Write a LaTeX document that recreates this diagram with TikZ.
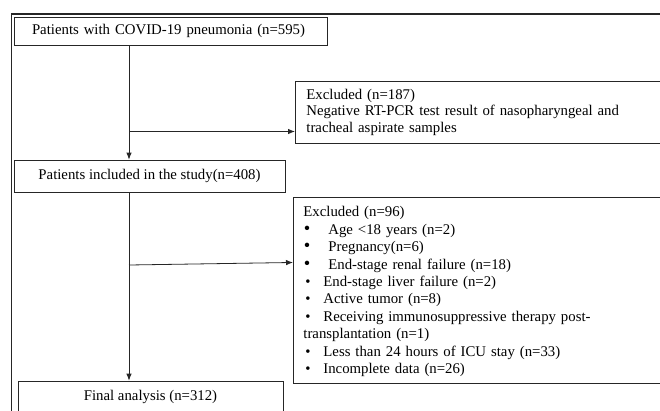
\documentclass[tikz,border=0pt]{standalone}
\usepackage{fontspec}
\setmainfont{Liberation Serif}
\usetikzlibrary{positioning,calc,arrows.meta}
\newcommand{\bulbig}{\makebox[25pt][l]{\hspace{0.5pt}\scalebox{1.25}{\textbullet}}}
\newcommand{\bulsmall}{\makebox[20pt][l]{\hspace{2pt}\textbullet}}
\begin{document}
\begin{tikzpicture}[x=1pt,y=-1pt,
        box/.style={draw=black!85,line width=0.8pt,inner sep=0pt,font=\fontsize{14.8}{17.4}\selectfont},
        exbox/.style={draw=black!85,line width=0.8pt,anchor=north west,align=left,text width=400pt,
            inner xsep=10pt,inner ysep=7pt,font=\fontsize{14.8}{17.4}\selectfont}]
        \clip (0,0) rectangle (660,410);
        \draw[line width=1.8pt,black!85] (11.5,420) -- (11.5,14.3) -- (670,14.3);

        \node[box,minimum width=313pt,minimum height=28pt,align=left,text width=277pt] (all) at (170.5,31) {Patients with COVID-19 pneumonia (n=595)};
        \node[box,minimum width=271pt,minimum height=32pt] (incl) at (149.5,176) {Patients included in the study(n=408)};
        \node[box,minimum width=265pt,minimum height=32pt] (final) at (150.5,397) {Final analysis (n=312)};

        \node[exbox,inner xsep=11pt,inner ysep=8pt,font=\fontsize{14.8}{16.5}\selectfont] (ex1) at (295,80.7)
            {Excluded (n=187)\\Negative RT-PCR test result of nasopharyngeal and\\tracheal aspirate samples};
        \node[exbox] (ex2) at (293,197)
            {\rule{0pt}{12.5pt}Excluded (n=96)\\
             \bulbig Age <18 years (n=2)\\
             \bulbig Pregnancy(n=6)\\
             \bulbig End-stage renal failure (n=18)\\
             \bulsmall End-stage liver failure (n=2)\\
             \bulsmall Active tumor (n=8)\\
             \bulsmall Receiving immunosuppressive therapy post-\\
             transplantation (n=1)\\
             \bulsmall Less than 24 hours of ICU stay (n=33)\\
             \bulsmall Incomplete data (n=26)};

        \coordinate (spine) at (129,0);
        \coordinate (b1) at (129,131.5);
        \coordinate (b2) at (129,265);

        \path [draw,>={Latex[length=7pt,width=5.5pt]},line width=0.8pt,black!85] (all.south -| spine) edge[->] (incl.north -| spine);
        \path [draw,>={Latex[length=7pt,width=5.5pt]},line width=0.8pt,black!85] (b1) edge[->] (b1 -| ex1.west);
        \path [draw,>={Latex[length=7pt,width=5.5pt]},line width=0.8pt,black!85] (incl.south -| spine) edge[->] (final.north -| spine);
        \path [draw,>={Latex[length=7pt,width=5.5pt]},line width=0.8pt,black!85] (b2) edge[->] ($(ex2.north west)!0.35!(ex2.south west)$);
    \end{tikzpicture}
\end{document}
